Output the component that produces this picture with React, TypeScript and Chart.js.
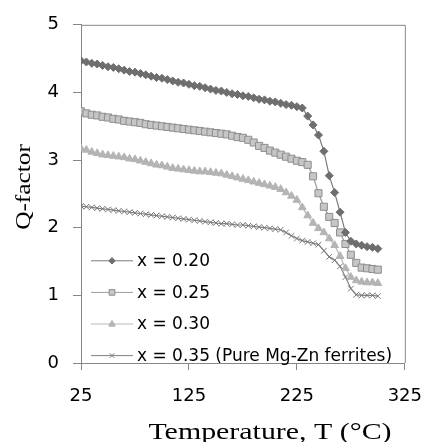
import React, { useEffect, useRef } from "react";
import { Chart, registerables } from "chart.js";

Chart.register(...registerables);

const temperatures = [
  25, 30, 35, 40, 45, 50, 55, 60, 65, 70, 75, 80, 85, 90, 95, 100, 105, 110, 115, 120,
  125, 130, 135, 140, 145, 150, 155, 160, 165, 170, 175, 180, 185, 190, 195, 200, 205, 210, 215, 220,
  225, 230, 235, 240, 245, 250, 255, 260, 265, 270, 275, 280, 285, 290, 295, 300,
];

const q020 = [
  4.47, 4.45, 4.43, 4.42, 4.40, 4.38, 4.37, 4.35, 4.33, 4.31, 4.30, 4.28, 4.26, 4.24, 4.22, 4.21, 4.19, 4.17, 4.15, 4.14,
  4.12, 4.10, 4.09, 4.07, 4.05, 4.03, 4.02, 4.00, 3.98, 3.97, 3.95, 3.94, 3.92, 3.90, 3.89, 3.87, 3.86, 3.84, 3.82, 3.81,
  3.79, 3.77, 3.65, 3.52, 3.37, 3.13, 2.77, 2.52, 2.23, 1.93, 1.80, 1.76, 1.74, 1.72, 1.71, 1.69,
];

const q025 = [
  3.72, 3.69, 3.67, 3.66, 3.64, 3.63, 3.61, 3.60, 3.58, 3.57, 3.56, 3.55, 3.53, 3.52, 3.51, 3.50, 3.49, 3.48, 3.47, 3.46,
  3.45, 3.44, 3.43, 3.42, 3.41, 3.40, 3.39, 3.38, 3.36, 3.34, 3.33, 3.30, 3.26, 3.21, 3.18, 3.14, 3.11, 3.08, 3.05, 3.02,
  2.99, 2.97, 2.93, 2.76, 2.51, 2.31, 2.16, 2.07, 1.93, 1.76, 1.60, 1.48, 1.41, 1.40, 1.39, 1.38,
];

const q030 = [
  3.17, 3.15, 3.12, 3.10, 3.08, 3.07, 3.06, 3.05, 3.04, 3.02, 3.01, 2.99, 2.97, 2.95, 2.93, 2.92, 2.90, 2.88, 2.87, 2.86,
  2.85, 2.84, 2.83, 2.83, 2.82, 2.81, 2.80, 2.78, 2.76, 2.74, 2.72, 2.70, 2.68, 2.66, 2.64, 2.62, 2.60, 2.57, 2.52, 2.47,
  2.41, 2.30, 2.18, 2.07, 1.99, 1.93, 1.84, 1.74, 1.58, 1.40, 1.27, 1.22, 1.20, 1.19, 1.19, 1.18,
];

const q035 = [
  2.32, 2.31, 2.30, 2.29, 2.28, 2.27, 2.26, 2.25, 2.24, 2.23, 2.22, 2.21, 2.20, 2.19, 2.18, 2.17, 2.16, 2.15, 2.14, 2.13,
  2.12, 2.11, 2.10, 2.09, 2.08, 2.07, 2.06, 2.06, 2.05, 2.04, 2.04, 2.03, 2.02, 2.01, 2.00, 1.99, 1.98, 1.97, 1.93, 1.88,
  1.84, 1.81, 1.79, 1.77, 1.75, 1.66, 1.57, 1.52, 1.43, 1.27, 1.10, 1.01, 1.00, 1.00, 1.00, 0.99,
];

const seriesLabels = ["x = 0.20", "x = 0.25", "x = 0.30", "x = 0.35 (Pure Mg-Zn ferrites)"];
const xTickValues = [25, 125, 225, 325];
const yTitle = "Q-factor";
const xTitle = "Temperature, T (\u00B0C)";

const AXIS_GRAY = "#868686";

type Style = {
  line: string;
  fill: string;
  border: string;
  shape: string;
  radius: number;
};

const styles: Style[] = [
  { line: "#7a7a7a", fill: "#6e6e6e", border: "#6e6e6e", shape: "rectRot", radius: 4 },
  { line: "#9c9c9c", fill: "#c6c6c6", border: "#8e8e8e", shape: "rect", radius: 5 },
  { line: "#b8b8b8", fill: "#b4b4b4", border: "#b4b4b4", shape: "triangle", radius: 4.5 },
  { line: "#808080", fill: "#787878", border: "#787878", shape: "crossRot", radius: 4 },
];

function drawMarker(ctx: CanvasRenderingContext2D, shape: string, x: number, y: number, r: number, s: Style) {
  ctx.save();
  ctx.fillStyle = s.fill;
  ctx.strokeStyle = s.border;
  ctx.lineWidth = 1;
  ctx.beginPath();
  if (shape === "rectRot") {
    ctx.moveTo(x, y - r);
    ctx.lineTo(x + r, y);
    ctx.lineTo(x, y + r);
    ctx.lineTo(x - r, y);
    ctx.closePath();
    ctx.fill();
    ctx.stroke();
  } else if (shape === "rect") {
    const h = r * Math.SQRT1_2;
    ctx.rect(x - h, y - h, 2 * h, 2 * h);
    ctx.fill();
    ctx.stroke();
  } else if (shape === "triangle") {
    ctx.moveTo(x, y - r);
    ctx.lineTo(x + r * 0.9, y + r * 0.6);
    ctx.lineTo(x - r * 0.9, y + r * 0.6);
    ctx.closePath();
    ctx.fill();
    ctx.stroke();
  } else {
    const h = r * Math.SQRT1_2;
    ctx.moveTo(x - h, y - h);
    ctx.lineTo(x + h, y + h);
    ctx.moveTo(x + h, y - h);
    ctx.lineTo(x - h, y + h);
    ctx.stroke();
  }
  ctx.restore();
}

const framePlugin = {
  id: "frameAndExtras",
  beforeDatasetsDraw(chart: any) {
    const { ctx, chartArea } = chart;
    ctx.save();
    ctx.strokeStyle = AXIS_GRAY;
    ctx.lineWidth = 1;
    ctx.beginPath();
    ctx.moveTo(chartArea.left, chartArea.top + 0.5);
    ctx.lineTo(chartArea.right + 0.5, chartArea.top + 0.5);
    ctx.lineTo(chartArea.right + 0.5, chartArea.bottom);
    ctx.stroke();
    ctx.restore();
  },
  afterDraw(chart: any) {
    const { ctx, chartArea } = chart;
    const lx0 = chartArea.left + 10;
    const lx1 = chartArea.left + 52;
    const ly0 = chartArea.top + 236;
    const gap = 31.6;
    ctx.save();
    ctx.font = '17px "DejaVu Sans"';
    ctx.textBaseline = "middle";
    ctx.textAlign = "left";
    seriesLabels.forEach((label, i) => {
      const s = styles[i];
      const y = ly0 + i * gap;
      ctx.strokeStyle = s.line;
      ctx.lineWidth = 1;
      ctx.beginPath();
      ctx.moveTo(lx0, y);
      ctx.lineTo(lx1, y);
      ctx.stroke();
      drawMarker(ctx, s.shape, (lx0 + lx1) / 2, y, s.radius * 0.8, s);
      ctx.fillStyle = "#000";
      ctx.fillText(label, lx1 + 4, y + 1);
    });
    ctx.restore();

    ctx.save();
    ctx.fillStyle = "#000";
    ctx.textAlign = "center";
    ctx.textBaseline = "middle";
    ctx.font = '23px "Liberation Serif"';
    ctx.translate(270, 433);
    ctx.scale(1.3, 1);
    ctx.fillText(xTitle, 0, 0);
    ctx.restore();

    ctx.save();
    ctx.fillStyle = "#000";
    ctx.textAlign = "center";
    ctx.textBaseline = "middle";
    ctx.font = '22px "Liberation Serif"';
    ctx.translate(24, 187);
    ctx.rotate(-Math.PI / 2);
    ctx.scale(1.15, 1);
    ctx.fillText(yTitle, 0, 0);
    ctx.restore();
  },
};

export default function App() {
  const ref = useRef<HTMLCanvasElement | null>(null);

  useEffect(() => {
    document.body.style.margin = "0";
    const canvas = ref.current;
    if (!canvas) return;
    const allSeries = [q020, q025, q030, q035];
    const chart = new Chart(canvas, {
      type: "line",
      data: {
        datasets: allSeries.map((vals, i) => ({
          label: seriesLabels[i],
          data: temperatures.map((t, k) => ({ x: t, y: vals[k] })),
          borderColor: styles[i].line,
          borderWidth: 1.2,
          backgroundColor: styles[i].fill,
          pointBackgroundColor: styles[i].fill,
          pointBorderColor: styles[i].border,
          pointBorderWidth: 1,
          pointStyle: styles[i].shape as any,
          pointRadius: styles[i].radius,
          pointHoverRadius: styles[i].radius,
          tension: 0,
          fill: false,
        })),
      },
      options: {
        responsive: false,
        animation: false,
        events: [],
        layout: { padding: { top: 16, right: 18, left: 0, bottom: 0 } },
        plugins: {
          legend: { display: false },
          tooltip: { enabled: false },
          title: { display: false },
        },
        scales: {
          x: {
            type: "linear",
            min: 25,
            max: 325,
            afterBuildTicks: (scale: any) => {
              scale.ticks = xTickValues.map((v) => ({ value: v }));
            },
            afterFit: (scale: any) => {
              scale.height = 79;
            },
            border: { display: true, color: AXIS_GRAY, width: 1 },
            grid: {
              drawOnChartArea: false,
              drawTicks: true,
              tickLength: 7,
              color: AXIS_GRAY,
            },
            ticks: {
              color: "#000",
              font: { family: "DejaVu Sans", size: 18 },
              padding: 16,
              maxRotation: 0,
              autoSkip: false,
              callback: (v: any) => String(v),
            },
          },
          y: {
            type: "linear",
            min: 0,
            max: 5,
            afterFit: (scale: any) => {
              scale.width = 81;
            },
            border: { display: true, color: AXIS_GRAY, width: 1 },
            grid: {
              drawOnChartArea: false,
              drawTicks: true,
              tickLength: 8,
              color: AXIS_GRAY,
            },
            ticks: {
              stepSize: 1,
              color: "#000",
              font: { family: "DejaVu Sans", size: 18 },
              padding: 14,
            },
          },
        },
      },
      plugins: [framePlugin],
    });
    return () => chart.destroy();
  }, []);

  return (
    <div style={{ width: 438, height: 442, background: "#fff" }}>
      <canvas ref={ref} width={438} height={442} style={{ display: "block" }} />
    </div>
  );
}
